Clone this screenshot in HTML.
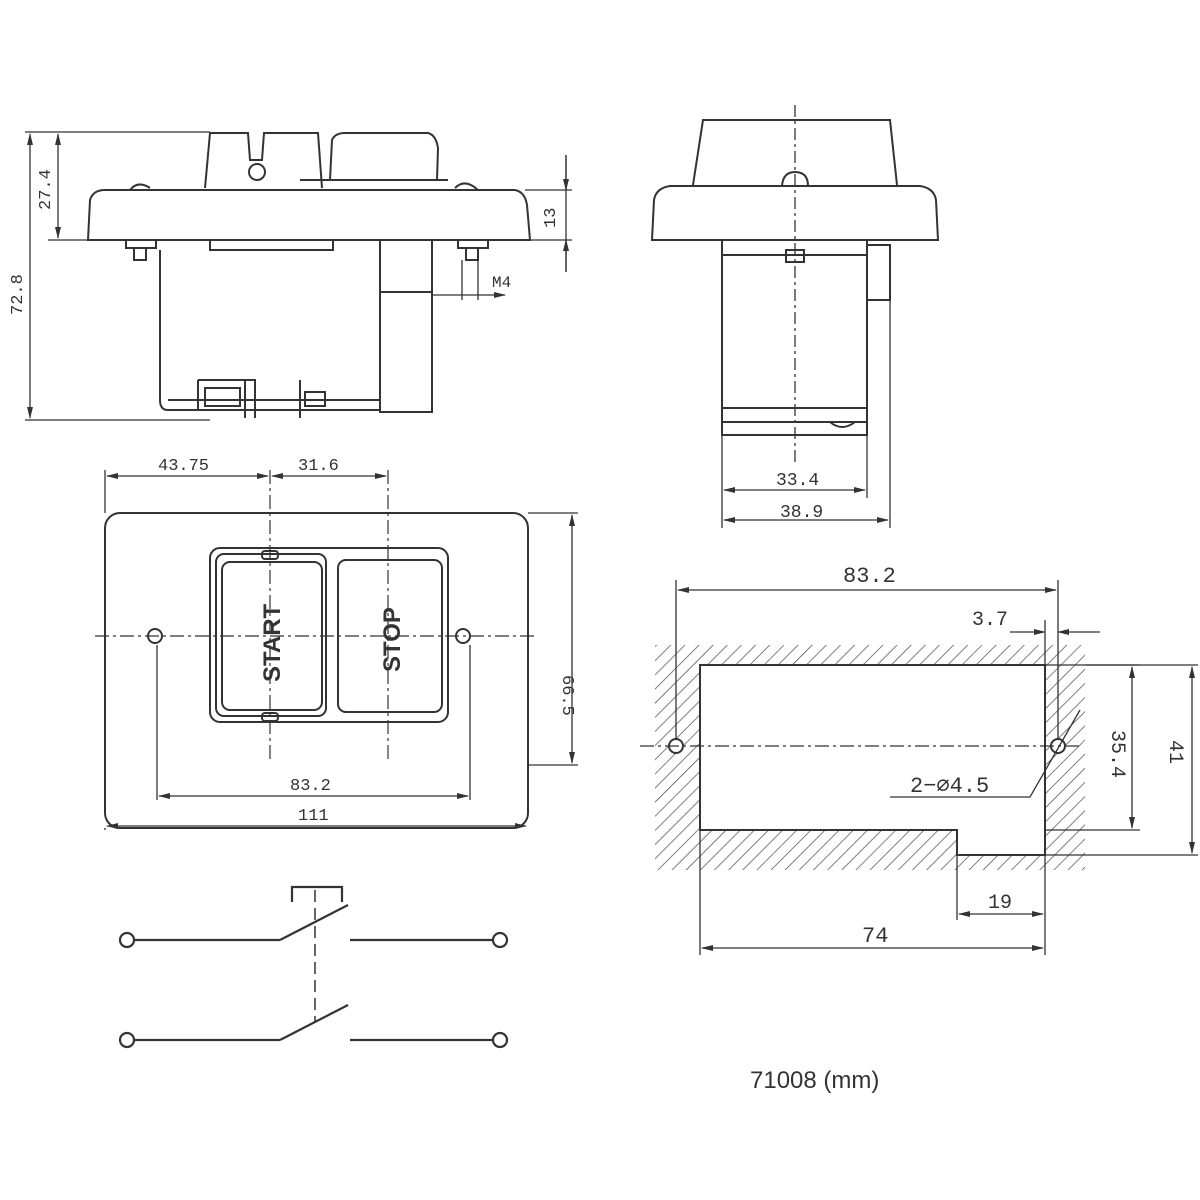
<!DOCTYPE html>
<html><head><style>body{margin:0;background:#fff}svg{display:block}text{font-family:"Liberation Mono",monospace;fill:#333}</style></head><body>
<svg width="1200" height="1200" viewBox="0 0 1200 1200" xmlns="http://www.w3.org/2000/svg" fill="none" stroke="#333" stroke-width="2">
<defs>
<pattern id="h" width="10" height="10" patternUnits="userSpaceOnUse" patternTransform="rotate(45)"><line x1="0" y1="0" x2="0" y2="10" stroke="#555" stroke-width="1.5"/></pattern>
<marker id="a" markerWidth="12" markerHeight="8" refX="11" refY="4" orient="auto-start-reverse" markerUnits="userSpaceOnUse"><path d="M0,1 L12,4 L0,7z" fill="#333" stroke="none"/></marker>
</defs>
<!-- Top-left side view -->
<g>
<path d="M205,188 L210,133 L248,133 L250,160 L262,160 L264,133 L318,133 L322,188"/>
<circle cx="257" cy="172" r="8"/>
<path d="M330,180 L332,140 Q335,133 345,133 L428,133 Q436,135 438,148 L437,180"/>
<line x1="300" y1="180" x2="448" y2="180"/>
<path d="M88,240 L90,200 Q93,190 105,190 L515,190 Q525,192 527,205 L530,240 Z"/>
<path d="M130,190 Q138,180 150,188 M455,188 Q465,178 478,190"/>
<path d="M210,240 L210,250 L333,250 L333,240"/>
<rect x="126" y="240" width="30" height="8"/><rect x="134" y="248" width="12" height="12"/>
<rect x="458" y="240" width="30" height="8"/><rect x="466" y="248" width="12" height="12"/>
<path d="M160,250 L160,400 Q160,410 168,410 L380,410"/>
<rect x="380" y="240" width="52" height="172"/>
<line x1="380" y1="292" x2="432" y2="292"/>
<path d="M198,380 L255,380 L255,418 M198,380 L198,410 M245,380 L245,418 M300,380 L300,418 M168,400 L380,400"/>
<rect x="205" y="388" width="35" height="18"/><rect x="305" y="392" width="20" height="14"/>
<g stroke-width="1.3">
<line x1="25" y1="132" x2="210" y2="132"/><line x1="25" y1="420" x2="210" y2="420"/>
<line x1="30" y1="134" x2="30" y2="418" marker-start="url(#a)" marker-end="url(#a)"/>
<line x1="48" y1="240" x2="88" y2="240"/>
<line x1="58" y1="134" x2="58" y2="238" marker-start="url(#a)" marker-end="url(#a)"/>
<line x1="525" y1="190" x2="572" y2="190"/><line x1="530" y1="240" x2="572" y2="240"/>
<line x1="566" y1="155" x2="566" y2="272"/>
<path d="M566,155 L566,190" marker-end="url(#a)"/><path d="M566,272 L566,240" marker-end="url(#a)"/>
<line x1="432" y1="295" x2="505" y2="295" marker-end="url(#a)"/>
<line x1="462" y1="260" x2="462" y2="300"/><line x1="478" y1="260" x2="478" y2="300"/>
</g>
<text x="0" y="0" font-size="17" transform="translate(50,210) rotate(-90)" stroke="none">27.4</text>
<text x="0" y="0" font-size="17" transform="translate(22,315) rotate(-90)" stroke="none">72.8</text>
<text x="0" y="0" font-size="17" transform="translate(555,228) rotate(-90)" stroke="none">13</text>
<text x="492" y="287" font-size="16" stroke="none">M4</text>
</g>
<!-- Top-right view -->
<g>
<path d="M693,185 L703,120 L890,120 L897,185"/>
<path d="M652,240 L654,200 Q656,188 670,186 L920,186 Q934,188 936,200 L938,240 Z"/>
<path d="M782,186 Q783,172 795,172 Q808,172 808,186"/>
<rect x="722" y="240" width="145" height="195"/>
<path d="M867,245 L890,245 L890,300 L867,300"/>
<line x1="722" y1="255" x2="867" y2="255"/>
<rect x="786" y="250" width="18" height="12"/>
<line x1="722" y1="408" x2="867" y2="408"/><line x1="722" y1="422" x2="867" y2="422"/>
<path d="M830,422 Q842,432 855,422"/>
<line x1="795" y1="105" x2="795" y2="465" stroke-dasharray="12,4,3,4" stroke-width="1.3"/>
<g stroke-width="1.3">
<line x1="722" y1="435" x2="722" y2="528"/><line x1="867" y1="435" x2="867" y2="498"/><line x1="890" y1="300" x2="890" y2="528"/>
<line x1="724" y1="490" x2="865" y2="490" marker-start="url(#a)" marker-end="url(#a)"/>
<line x1="724" y1="520" x2="888" y2="520" marker-start="url(#a)" marker-end="url(#a)"/>
</g>
<text x="776" y="485" font-size="18" stroke="none">33.4</text>
<text x="780" y="517" font-size="18" stroke="none">38.9</text>
</g>
<!-- Front view -->
<g>
<rect x="105" y="513" width="423" height="315" rx="15"/>
<rect x="210" y="548" width="238" height="174" rx="10"/>
<rect x="216" y="554" width="110" height="162" rx="8"/>
<rect x="222" y="562" width="100" height="148" rx="8"/>
<rect x="338" y="560" width="104" height="152" rx="8"/>
<rect x="262" y="551" width="16" height="8" rx="3"/><rect x="262" y="713" width="16" height="8" rx="3"/>
<circle cx="155" cy="636" r="7"/><circle cx="463" cy="636" r="7"/>
<g stroke-width="1.2" stroke-dasharray="14,4,3,4">
<line x1="95" y1="636" x2="535" y2="636"/>
<line x1="270" y1="470" x2="270" y2="760"/><line x1="388" y1="470" x2="388" y2="760"/>
</g>
<g stroke-width="1.3">
<line x1="105" y1="470" x2="105" y2="513"/>
<line x1="107" y1="476" x2="268" y2="476" marker-start="url(#a)" marker-end="url(#a)"/>
<line x1="272" y1="476" x2="386" y2="476" marker-start="url(#a)" marker-end="url(#a)"/>
<line x1="528" y1="513" x2="578" y2="513"/><line x1="528" y1="765" x2="578" y2="765"/>
<line x1="572" y1="515" x2="572" y2="763" marker-start="url(#a)" marker-end="url(#a)"/>
<line x1="157" y1="645" x2="157" y2="800"/><line x1="470" y1="645" x2="470" y2="800"/>
<line x1="159" y1="796" x2="468" y2="796" marker-start="url(#a)" marker-end="url(#a)"/>
<line x1="105" y1="828" x2="105" y2="830"/>
<line x1="107" y1="826" x2="526" y2="826" marker-start="url(#a)" marker-end="url(#a)"/>
</g>
<text x="158" y="470" font-size="17" stroke="none">43.75</text>
<text x="298" y="470" font-size="17" stroke="none">31.6</text>
<text x="290" y="790" font-size="17" stroke="none">83.2</text>
<text x="298" y="820" font-size="17" stroke="none">111</text>
<text x="0" y="0" font-size="17" transform="translate(563,675) rotate(90)" stroke="none">66.5</text>
<text x="0" y="0" font-family="Liberation Sans,sans-serif" font-weight="bold" font-size="24" transform="translate(280,682) rotate(-90)" stroke="none" style="font-family:'Liberation Sans',sans-serif">START</text>
<text x="0" y="0" font-weight="bold" font-size="24" transform="translate(400,672) rotate(-90)" stroke="none" style="font-family:'Liberation Sans',sans-serif">STOP</text>
</g>
<!-- Cutout -->
<g>
<path d="M655,645 L1085,645 L1085,870 L655,870 Z M700,665 L700,830 L957,830 L957,855 L1045,855 L1045,665 Z" fill="url(#h)" fill-rule="evenodd" stroke="none"/>
<path d="M700,665 L1045,665 L1045,855 L957,855 L957,830 L700,830 Z" fill="#fff"/>
<circle cx="676" cy="746" r="7" fill="#fff"/><circle cx="1058" cy="746" r="7" fill="#fff"/>
<line x1="640" y1="746" x2="1080" y2="746" stroke-width="1.2" stroke-dasharray="14,4,3,4"/>
<g stroke-width="1.3">
<line x1="676" y1="580" x2="676" y2="740"/><line x1="1058" y1="580" x2="1058" y2="740"/>
<line x1="678" y1="590" x2="1056" y2="590" marker-start="url(#a)" marker-end="url(#a)"/>
<line x1="1045" y1="620" x2="1045" y2="665"/>
<line x1="1010" y1="632" x2="1045" y2="632" marker-end="url(#a)"/><line x1="1100" y1="632" x2="1058" y2="632" marker-end="url(#a)"/>
<line x1="1045" y1="665" x2="1140" y2="665"/><line x1="1045" y1="830" x2="1140" y2="830"/><line x1="1045" y1="855" x2="1198" y2="855"/><line x1="1085" y1="665" x2="1198" y2="665"/>
<line x1="1132" y1="667" x2="1132" y2="828" marker-start="url(#a)" marker-end="url(#a)"/>
<line x1="1192" y1="667" x2="1192" y2="853" marker-start="url(#a)" marker-end="url(#a)"/>
<line x1="957" y1="855" x2="957" y2="920"/><line x1="1045" y1="855" x2="1045" y2="955"/><line x1="700" y1="830" x2="700" y2="955"/>
<line x1="959" y1="914" x2="1043" y2="914" marker-start="url(#a)" marker-end="url(#a)"/>
<line x1="702" y1="948" x2="1043" y2="948" marker-start="url(#a)" marker-end="url(#a)"/>
<path d="M890,797 L1030,797 L1080,710"/>
</g>
<text x="843" y="582" font-size="22" stroke="none">83.2</text>
<text x="972" y="625" font-size="20" stroke="none">3.7</text>
<text x="910" y="792" font-size="22" stroke="none">2−∅4.5</text>
<text x="988" y="908" font-size="20" stroke="none">19</text>
<text x="862" y="942" font-size="22" stroke="none">74</text>
<text x="0" y="0" font-size="20" transform="translate(1112,730) rotate(90)" stroke="none">35.4</text>
<text x="0" y="0" font-size="20" transform="translate(1170,740) rotate(90)" stroke="none">41</text>
</g>
<!-- Schematic -->
<g stroke-width="2.2">
<circle cx="127" cy="940" r="7"/><circle cx="500" cy="940" r="7"/>
<circle cx="127" cy="1040" r="7"/><circle cx="500" cy="1040" r="7"/>
<line x1="134" y1="940" x2="280" y2="940"/><line x1="280" y1="940" x2="348" y2="905"/><line x1="350" y1="940" x2="493" y2="940"/>
<line x1="134" y1="1040" x2="280" y2="1040"/><line x1="280" y1="1040" x2="348" y2="1005"/><line x1="350" y1="1040" x2="493" y2="1040"/>
<path d="M292,902 L292,887 L342,887 L342,902"/>
<line x1="315" y1="890" x2="315" y2="1022" stroke-dasharray="12,6" stroke-width="1.5"/>
</g>
<text x="750" y="1088" font-size="24" stroke="none" style="font-family:'Liberation Sans',sans-serif">71008 (mm)</text>
</svg>
</body></html>
